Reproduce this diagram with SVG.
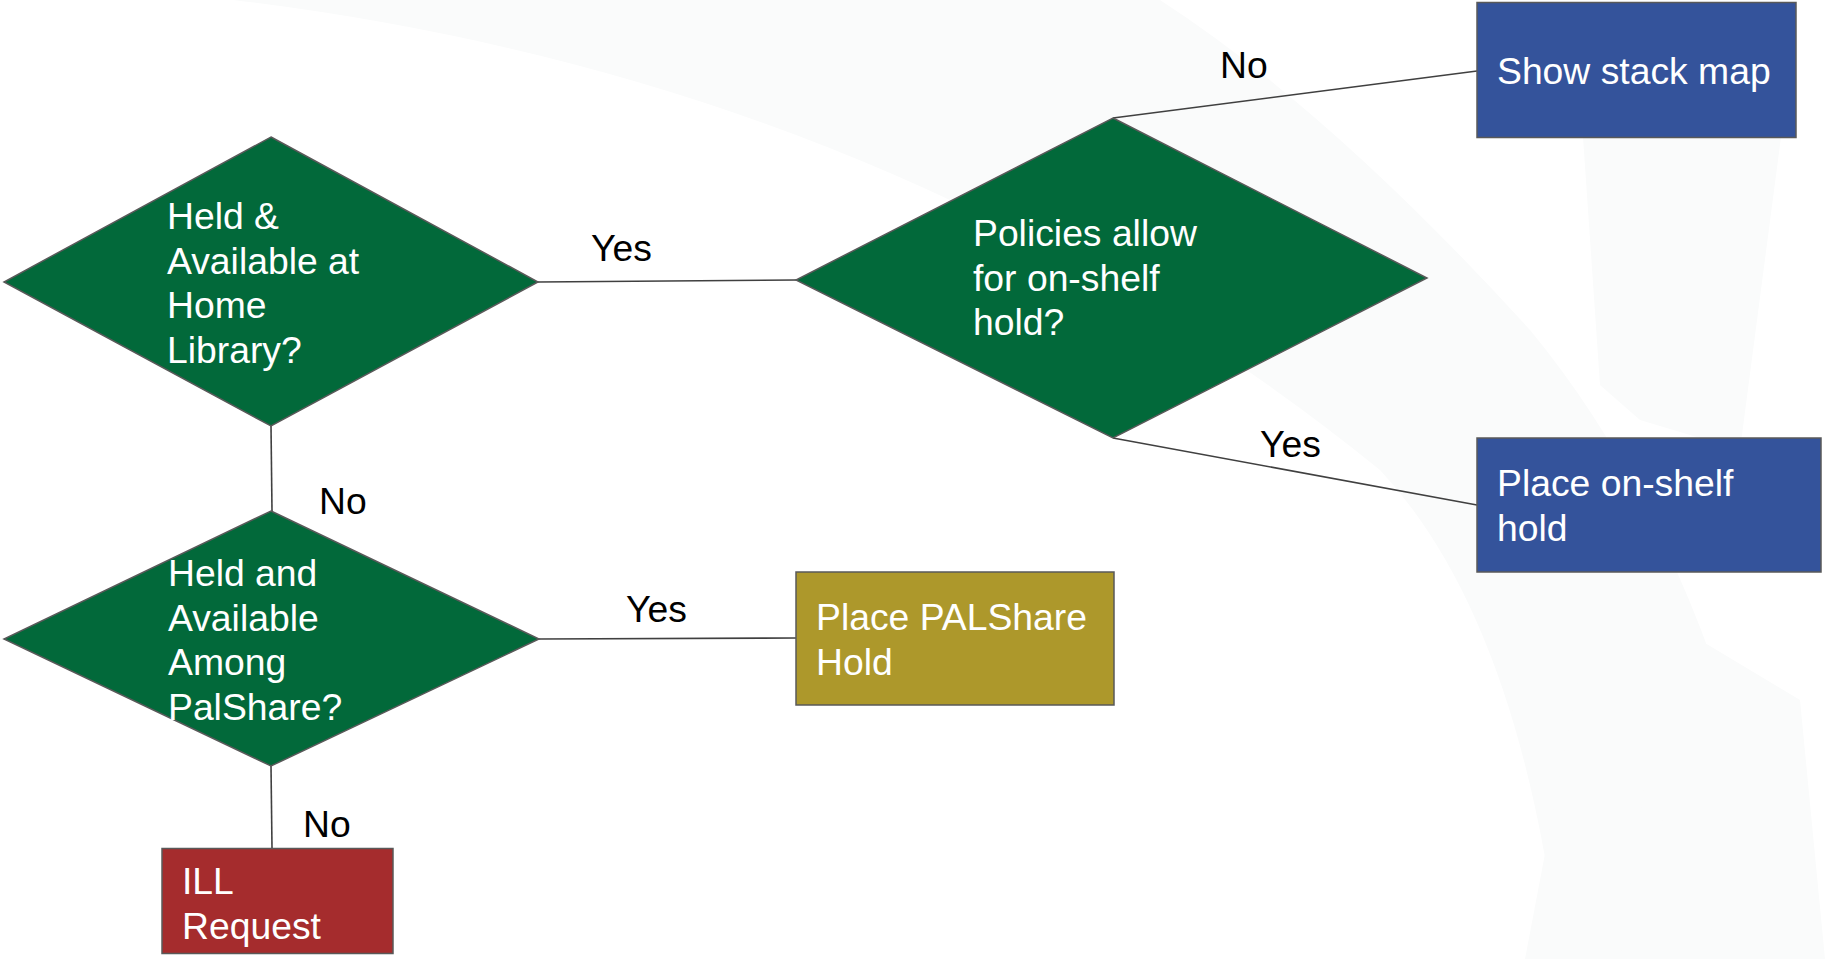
<svg xmlns="http://www.w3.org/2000/svg" width="1825" height="959" viewBox="0 0 1825 959">
<style>
.dia{fill:#02693a;stroke:#595959;stroke-width:1.5}
.box{stroke:#595959;stroke-width:1.5}
.wt{font-family:"Liberation Sans",Arial,sans-serif;font-size:37.3px;fill:#ffffff}
.lbl{font-family:"Liberation Sans",Arial,sans-serif;font-size:37.3px;fill:#000000}
.conn line{stroke:#404040;stroke-width:1.6}
.wm{fill:#fafbfb;stroke:none}
</style>
<rect x="0" y="0" width="1825" height="959" fill="#ffffff"/>
<g id="watermark">
<path class="wm" d="M 233 0 Q 900 80 1380 470 Q 1520 620 1560 959 L 1790 959 Q 1720 560 1530 330 Q 1330 110 1160 0 Z"/>
<path class="wm" d="M 1583 137 L 1781 137 L 1740 450 L 1640 420 L 1600 385 Z"/>
<path class="wm" d="M 1578 680 L 1700 640 L 1800 700 L 1825 959 L 1725 959 L 1645 782 L 1620 959 L 1525 959 Z"/>
</g>
<g id="connectors" class="conn">
<line x1="538" y1="282" x2="796" y2="280"/>
<line x1="1113" y1="118" x2="1477" y2="71"/>
<line x1="1113" y1="438" x2="1477" y2="505"/>
<line x1="271" y1="426" x2="272" y2="511"/>
<line x1="539" y1="639" x2="796" y2="638"/>
<line x1="271" y1="766" x2="272" y2="848"/>
</g>
<g id="labels">
<text class="lbl" x="1220" y="78">No</text>
<text class="lbl" x="591" y="261">Yes</text>
<text class="lbl" x="1260" y="457">Yes</text>
<text class="lbl" x="319" y="514">No</text>
<text class="lbl" x="626" y="622">Yes</text>
<text class="lbl" x="303" y="837">No</text>
</g>
<g id="d-home">
<polygon class="dia" points="271,137 538,282 271,426 4,282"/>
<text class="wt" x="167"><tspan x="167" y="229">Held &amp;</tspan><tspan x="167" y="273.6">Available at</tspan><tspan x="167" y="318.2">Home</tspan><tspan x="167" y="362.8">Library?</tspan></text>
</g>
<g id="d-policies">
<polygon class="dia" points="1113,118 1427,278 1113,438 796,280"/>
<text class="wt"><tspan x="973" y="246">Policies allow</tspan><tspan x="973" y="290.6">for on-shelf</tspan><tspan x="973" y="335.2">hold?</tspan></text>
</g>
<g id="d-palshare">
<polygon class="dia" points="271,511 539,639 271,766 4,639"/>
<text class="wt"><tspan x="168" y="586">Held and</tspan><tspan x="168" y="630.6">Available</tspan><tspan x="168" y="675.2">Among</tspan><tspan x="168" y="719.8">PalShare?</tspan></text>
</g>
<g id="n-stackmap">
<rect class="box" x="1477" y="2.5" width="319" height="135" fill="#34539b"/>
<text class="wt" x="1497" y="84">Show stack map</text>
</g>
<g id="n-onshelf">
<rect class="box" x="1477" y="438" width="344" height="134" fill="#34539b"/>
<text class="wt"><tspan x="1497" y="496">Place on-shelf</tspan><tspan x="1497" y="540.6">hold</tspan></text>
</g>
<g id="n-palsharehold">
<rect class="box" x="796" y="572" width="318" height="133" fill="#ad982b"/>
<text class="wt"><tspan x="816" y="630">Place PALShare</tspan><tspan x="816" y="674.6">Hold</tspan></text>
</g>
<g id="n-ill">
<rect class="box" x="162" y="848.5" width="231" height="105" fill="#a52c2d"/>
<text class="wt"><tspan x="182" y="894">ILL</tspan><tspan x="182" y="938.6">Request</tspan></text>
</g>
</svg>
